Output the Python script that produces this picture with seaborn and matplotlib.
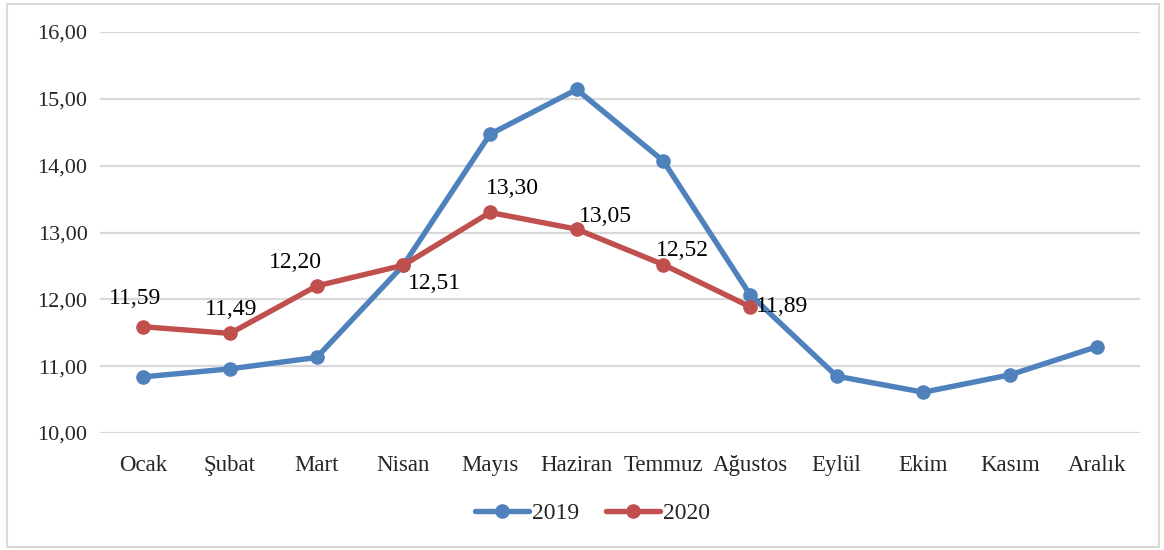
import matplotlib.pyplot as plt
import matplotlib.patches as mpatches
import pandas as pd
import seaborn as sns

months = ["Ocak", "Şubat", "Mart", "Nisan", "Mayıs", "Haziran",
          "Temmuz", "Ağustos", "Eylül", "Ekim", "Kasım", "Aralık"]
values_2019 = [10.84, 10.96, 11.13, 12.51, 14.47, 15.14,
               14.07, 12.07, 10.85, 10.61, 10.87, 11.29]
values_2020 = [11.59, 11.49, 12.20, 12.51, 13.30, 13.05, 12.52, 11.89]

# label offsets in pixels (dx, dy) for the 2020 data labels
label_offsets = [(-8, 28), (1, 24), (-21, 23), (31, -18),
                 (22, 24), (29, 13), (19, 14), (32, 0)]

df19 = pd.DataFrame({"ay": months, "deger": values_2019})
df20 = pd.DataFrame({"ay": months[:len(values_2020)], "deger": values_2020})

sns.set_theme(style="white")
plt.rcParams["font.family"] = ["Liberation Serif", "DejaVu Serif"]

fig = plt.figure(figsize=(11.64, 5.5), dpi=100)
ax = fig.add_axes([100 / 1164, 1 - 433 / 550, 1040 / 1164, 401 / 550])

blue = "#4F81BD"
red = "#C0504D"

sns.lineplot(data=df19, x="ay", y="deger", sort=False, color=blue, lw=3.9,
             marker="o", markersize=10.5, markeredgewidth=0, ax=ax, label="2019")
sns.lineplot(data=df20, x="ay", y="deger", sort=False, color=red, lw=3.9,
             marker="o", markersize=10.5, markeredgewidth=0, ax=ax, label="2020")

for i, v in enumerate(values_2020):
    dx, dy = label_offsets[i]
    ax.annotate(f"{v:.2f}".replace(".", ","), (i, v), xytext=(dx, dy),
                textcoords="offset pixels", ha="center", va="center",
                fontsize=17, color="black")

ax.set_xlim(-0.5, len(months) - 0.5)
ax.set_ylim(10, 16)
ax.set_yticks([10, 11, 12, 13, 14, 15, 16])
ax.set_yticklabels([f"{t},00" for t in range(10, 17)], fontsize=16)
ax.set_xticks(range(len(months)))
ax.set_xticklabels(months, fontsize=16.5)
ax.tick_params(axis="y", length=0, pad=9)
ax.tick_params(axis="x", length=0, pad=16)
ax.set_xlabel("")
ax.set_ylabel("")
ax.yaxis.grid(True, color="#D9D9D9", lw=1.6)
ax.set_axisbelow(True)
for s in ax.spines.values():
    s.set_visible(False)

ax.get_legend().remove()
handles, labels = ax.get_legend_handles_labels()
fig.legend(handles, labels, loc="center", bbox_to_anchor=(0.509, 0.066),
           ncol=2, frameon=False, fontsize=17, handlelength=2.3,
           handletextpad=0.15, columnspacing=1.1)

# outer chart border
fig.patches.append(mpatches.Rectangle((7 / 1164, 3 / 550), 1152 / 1164, 543 / 550,
                                      transform=fig.transFigure, fill=False,
                                      edgecolor="#D9D9D9", lw=1.5))

fig.savefig("out.png", dpi=100)
